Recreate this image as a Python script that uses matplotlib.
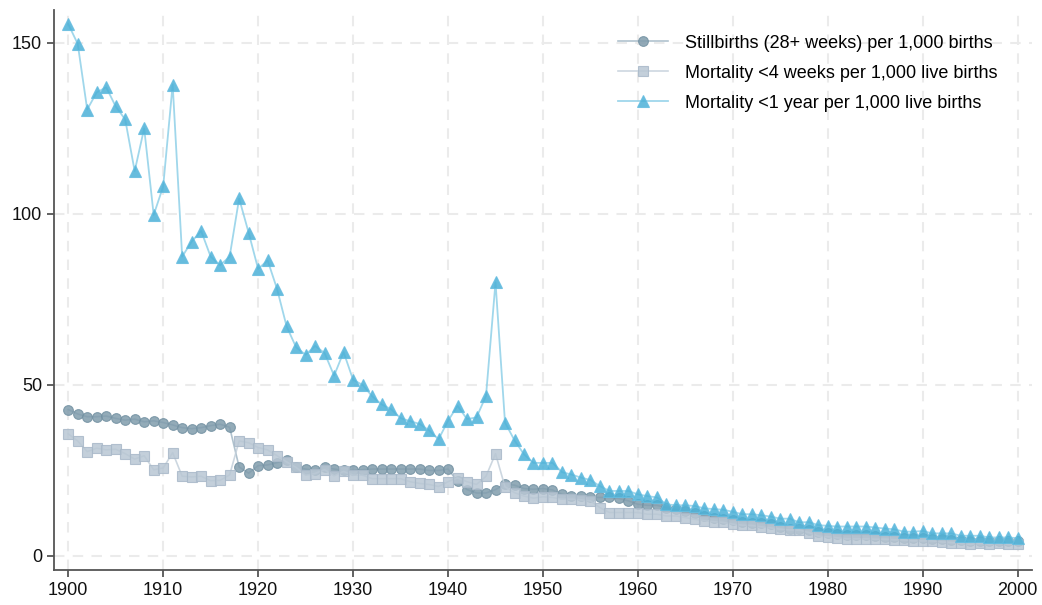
import numpy as np
import matplotlib
matplotlib.use('Agg')
import matplotlib.pyplot as plt

plt.rcParams['font.family'] = ['Liberation Sans', 'DejaVu Sans']

years = list(range(1900, 2001))

# Stillbirths (28+ weeks) per 1,000 births
stillbirths = [
    42.8, 41.5, 40.7, 40.7, 40.9, 40.2, 39.7, 40.0, 39.2, 39.5,
    39.0, 38.3, 37.5, 37.2, 37.5, 38.1, 38.5, 37.6, 26.0, 24.2,
    26.4, 26.6, 27.3, 28.1, 26.0, 25.4, 25.0, 26.0, 25.4, 25.0,
    25.0, 25.2, 25.4, 25.4, 25.4, 25.4, 25.4, 25.4, 25.0, 25.0,
    25.4, 21.8, 19.4, 18.4, 18.4, 19.4, 21.0, 20.7, 19.7, 19.5,
    19.7, 19.3, 18.0, 17.5, 17.5, 17.1, 17.1, 17.1, 16.8, 16.1,
    15.1, 14.8, 14.8, 14.1, 13.6, 13.1, 12.7, 11.7, 11.2, 10.7,
    10.4, 9.9, 9.7, 9.5, 9.2, 8.5, 7.9, 7.9, 7.6, 7.0,
    6.6, 6.3, 6.0, 6.0, 6.0, 5.8, 5.6, 5.6, 5.3, 5.3,
    5.3, 5.0, 4.9, 4.7, 4.7, 4.4, 4.4, 4.4, 4.4, 4.4,
    4.4,
]

# Mortality <4 weeks per 1,000 live births
neonatal = [
    35.7, 33.6, 30.5, 31.5, 31.0, 31.2, 29.9, 28.3, 29.3, 25.2,
    25.7, 30.2, 23.3, 23.1, 23.3, 22.0, 22.1, 23.7, 33.6, 33.1,
    31.7, 31.0, 29.3, 27.5, 25.9, 23.6, 24.1, 25.2, 23.4, 24.7,
    23.6, 23.6, 22.6, 22.6, 22.6, 22.6, 21.7, 21.2, 20.9, 20.3,
    21.7, 22.8, 21.7, 20.9, 23.3, 29.9, 20.2, 18.5, 17.5, 16.9,
    17.3, 17.1, 16.6, 16.6, 16.4, 16.1, 14.1, 12.7, 12.7, 12.7,
    12.7, 12.2, 12.2, 11.7, 11.7, 11.2, 10.7, 10.3, 10.0, 9.8,
    9.3, 9.0, 8.9, 8.5, 8.2, 7.8, 7.6, 7.6, 6.8, 5.8,
    5.6, 5.3, 5.0, 5.0, 5.0, 4.9, 4.9, 4.7, 4.7, 4.4,
    4.4, 4.4, 4.1, 3.9, 3.7, 3.4, 3.7, 3.4, 3.7, 3.4,
    3.4,
]

# Mortality <1 year per 1,000 live births
infant = [
    155.5, 149.7, 130.5, 135.5, 137.0, 131.4, 127.6, 112.5, 125.0, 99.7,
    108.0, 137.8, 87.5, 91.9, 95.0, 87.5, 85.0, 87.5, 104.5, 94.5,
    83.9, 86.4, 78.0, 67.1, 61.0, 58.8, 61.4, 59.3, 52.7, 59.6,
    51.5, 50.0, 46.7, 44.3, 42.9, 40.3, 39.4, 38.6, 36.7, 34.1,
    39.5, 43.9, 40.0, 40.5, 46.8, 80.0, 39.0, 33.8, 29.7, 27.2,
    27.2, 27.2, 24.5, 23.8, 22.9, 22.2, 20.4, 19.0, 19.0, 19.0,
    18.0, 17.5, 17.1, 15.1, 14.8, 14.8, 14.6, 13.9, 13.7, 13.5,
    12.9, 12.2, 12.2, 11.9, 11.5, 10.9, 10.9, 9.8, 9.9, 9.0,
    8.8, 8.6, 8.6, 8.6, 8.6, 8.3, 8.0, 7.8, 7.1, 7.1,
    7.3, 6.6, 6.6, 6.6, 5.9, 5.9, 5.9, 5.4, 5.4, 5.4,
    5.2,
]

labels = ['Stillbirths (28+ weeks) per 1,000 births',
          'Mortality <4 weeks per 1,000 live births',
          'Mortality <1 year per 1,000 live births']

fig = plt.figure(figsize=(10.42, 6.05), dpi=100)
ax = fig.add_axes([0.0518, 0.0579, 0.9386, 0.9256])

ax.plot(years, stillbirths, color='#a3b8c6', lw=1.2, marker='o', markersize=7,
        markerfacecolor='#809cac', markeredgecolor='#7391a2', markeredgewidth=0.8,
        alpha=0.85, label=labels[0], zorder=3)
ax.plot(years, neonatal, color='#c4d0db', lw=1.2, marker='s', markersize=6.5,
        markerfacecolor='#b9c7d4', markeredgecolor='#a9b9c9', markeredgewidth=0.8,
        alpha=0.85, label=labels[1], zorder=3)
ax.plot(years, infant, color='#8fd0e8', lw=1.3, marker='^', markersize=8.5,
        markerfacecolor='#4cb1d7', markeredgecolor='#66bde0', markeredgewidth=0.8,
        alpha=0.85, label=labels[2], zorder=4)

ax.set_xlim(1898.5, 2001.5)
ax.set_ylim(-4.1, 159.6)
ax.set_xticks(range(1900, 2001, 10))
ax.set_yticks([0, 50, 100, 150])

ax.grid(True, color='#ebebeb', linestyle=(0, (5, 4)), linewidth=1.5, zorder=0)
ax.set_axisbelow(True)

for s in ['top', 'right']:
    ax.spines[s].set_visible(False)
for s in ['left', 'bottom']:
    ax.spines[s].set_color('#555555')
    ax.spines[s].set_linewidth(1.3)
ax.tick_params(axis='both', colors='#555555', labelcolor='#111111',
               labelsize=13, length=5, width=1.3)

ax.legend(loc='upper right', bbox_to_anchor=(0.981, 0.985), frameon=False,
          fontsize=13, handlelength=2.8, handletextpad=0.9, labelspacing=0.72)

fig.savefig('out.png', dpi=100)
